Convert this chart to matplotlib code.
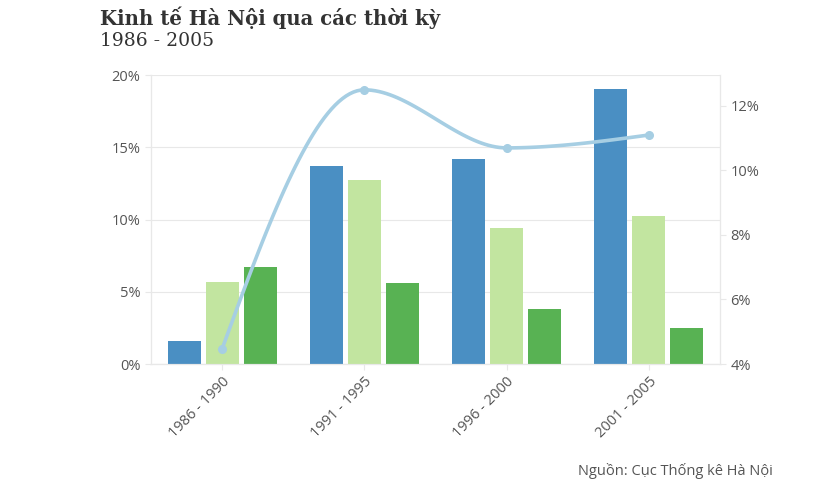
import numpy as np
import matplotlib
matplotlib.use("Agg")
import matplotlib.pyplot as plt
from matplotlib.ticker import FuncFormatter, MultipleLocator

categories = ["1986 - 1990", "1991 - 1995", "1996 - 2000", "2001 - 2005"]
series_a = [1.6, 13.7, 14.2, 19.0]     # blue bars (%)
series_b = [5.7, 12.7, 9.4, 10.25]     # light green bars (%)
series_c = [6.7, 5.6, 3.8, 2.5]        # green bars (%)
line_vals = [4.47, 12.5, 10.7, 11.1]   # line, right axis (%)

colors = ["#4a8fc3", "#c2e5a0", "#58b253"]
line_color = "#a6cee3"
grid_c = "#e8e8e8"
text_c = "#555555"

W, H = 833, 498
fig = plt.figure(figsize=(W / 100, H / 100), dpi=100)
ax = fig.add_axes([151 / W, 1 - 364 / H, (720 - 151) / W, (364 - 75) / H])
ax2 = ax.twinx()

x = np.arange(len(categories))
bw = 0.232
off = 0.267
for i, (vals, c) in enumerate(zip([series_a, series_b, series_c], colors)):
    ax.bar(x + (i - 1) * off, vals, width=bw, color=c, zorder=2)

ax.set_xlim(-0.5, len(categories) - 0.5)
ax.set_ylim(0, 20)
ax.yaxis.set_major_locator(MultipleLocator(5))
ax.yaxis.set_major_formatter(FuncFormatter(lambda v, p: f"{v:.0f}%"))
ax.grid(axis="y", color=grid_c, linewidth=0.8, zorder=0)
ax.set_axisbelow(True)
ax.set_xticks(x)
ax.set_xticklabels(categories, rotation=45, ha="right", rotation_mode="anchor")

for a in (ax, ax2):
    for s in ["top"]:
        a.spines[s].set_visible(False)
    a.spines["left"].set_color(grid_c)
    a.spines["right"].set_color(grid_c)
    a.spines["bottom"].set_color(grid_c)
    a.tick_params(colors=grid_c, labelcolor=text_c, labelsize=10.5, length=4, width=0.8)
    for lab in a.get_xticklabels() + a.get_yticklabels():
        lab.set_fontfamily("Open Sans")

ax2.set_ylim(4, 12.96)
ax2.set_yticks([4, 6, 8, 10, 12])
ax2.yaxis.set_major_formatter(FuncFormatter(lambda v, p: f"{v:.0f}%"))
for lab in ax2.get_yticklabels():
    lab.set_fontfamily("Open Sans")


def monotone_curve(xs, ys, n=40):
    xs = np.asarray(xs, float)
    ys = np.asarray(ys, float)
    h = np.diff(xs)
    s = np.diff(ys) / h
    m = np.zeros(len(xs))
    for k in range(1, len(xs) - 1):
        p = (s[k - 1] * h[k] + s[k] * h[k - 1]) / (h[k - 1] + h[k])
        m[k] = (np.sign(s[k - 1]) + np.sign(s[k])) * min(abs(s[k - 1]), abs(s[k]), 0.5 * abs(p))
    m[0] = (3 * s[0] - m[1]) / 2
    m[-1] = (3 * s[-1] - m[-2]) / 2
    px, py = [], []
    for k in range(len(xs) - 1):
        t = np.linspace(0, 1, n)
        h00 = 2 * t**3 - 3 * t**2 + 1
        h10 = t**3 - 2 * t**2 + t
        h01 = -2 * t**3 + 3 * t**2
        h11 = t**3 - t**2
        px.append(xs[k] + t * h[k])
        py.append(h00 * ys[k] + h10 * h[k] * m[k] + h01 * ys[k + 1] + h11 * h[k] * m[k + 1])
    return np.concatenate(px), np.concatenate(py)


cx, cy = monotone_curve(x, line_vals)
ax2.plot(cx, cy, color=line_color, linewidth=2.6, zorder=3, solid_capstyle="round")
ax2.plot(x, line_vals, "o", color=line_color, markersize=5.5, zorder=4)

fig.text(100 / W, 1 - 18 / H, "Kinh tế Hà Nội qua các thời kỳ", fontsize=14.2,
         fontweight="bold", family="DejaVu Serif", color="#333333", va="center")
fig.text(100 / W, 1 - 41 / H, "1986 - 2005", fontsize=13.5, family="DejaVu Serif",
         color="#333333", va="center")
fig.text(773 / W, 1 - 471 / H, "Nguồn: Cục Thống kê Hà Nội", fontsize=10.5,
         family="Open Sans", color=text_c, ha="right", va="center")

fig.savefig("out.png", dpi=100)
